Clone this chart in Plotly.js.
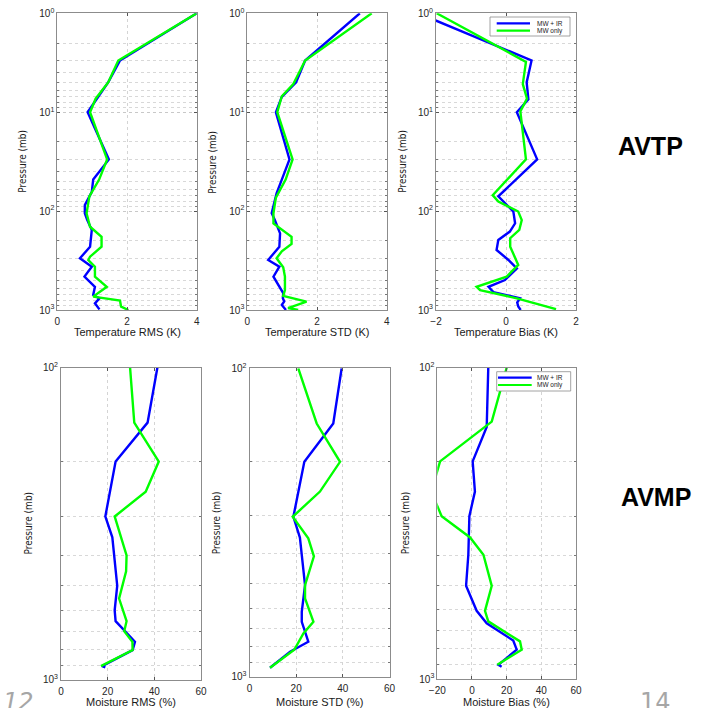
<!DOCTYPE html>
<html><head><meta charset="utf-8">
<script src="https://cdn.plot.ly/plotly-3.0.1.min.js"></script>
<style>html,body{margin:0;padding:0;background:#fff;}#chart{width:716px;height:708px;}</style>
</head><body><div id="chart"></div>
<script>
// ---------- data ----------
const seriesNames = ['MW + IR', 'MW only'];
const seriesColors = ['#0000ff', '#00ff00'];

// Temperature RMS (K)
const tRmsP_ir = [1, 3, 5, 7, 10, 30, 48, 64, 87, 105, 123, 155, 188, 229, 300, 365, 460, 583, 705, 762, 856, 985];
const tRms_ir  = [4.0, 1.80, 1.46, 1.18, 0.87, 1.48, 1.03, 0.99, 0.79, 0.79, 0.86, 0.99, 0.97, 0.94, 0.65, 0.99, 0.78, 1.08, 1.03, 1.21, 1.08, 1.21];
const tRmsP_mw = [1, 3, 5, 7.3, 10, 30, 48, 71, 105, 144, 182, 229, 289, 312, 365, 460, 583, 732, 805, 926, 1000];
const tRms_mw  = [4.0, 1.75, 1.46, 1.10, 0.94, 1.43, 1.20, 0.92, 0.84, 0.94, 1.27, 1.27, 0.94, 0.89, 1.08, 1.08, 1.42, 1.03, 1.80, 1.83, 2.04];

// Temperature STD (K)
const tStdP_ir = [1, 3, 5, 7, 10, 30, 48, 66, 105, 123, 168, 229, 312, 365, 460, 675, 762, 820, 890, 1000];
const tStd_ir  = [3.23, 1.66, 1.40, 0.99, 0.82, 1.21, 0.99, 0.84, 0.70, 0.79, 0.94, 0.92, 0.60, 0.92, 0.75, 1.03, 1.02, 1.06, 0.99, 1.11];
const tStdP_mw = [1, 3, 5.2, 6.9, 10, 30, 48, 73, 105, 133, 182, 215, 255, 300, 370, 460, 630, 720, 824, 955, 1000];
const tStd_mw  = [3.57, 1.66, 1.32, 0.99, 0.86, 1.30, 1.10, 0.82, 0.75, 0.75, 1.27, 1.27, 0.99, 0.84, 1.03, 1.08, 1.08, 1.03, 1.70, 1.17, 1.46];

// Temperature Bias (K)
const tBiasP_ir = [1, 3, 5, 7.4, 10, 30, 71, 101, 133, 161, 196, 247, 312, 380, 498, 583, 660, 762, 840, 920, 1000];
const tBias_ir  = [-2.5, 0.73, 0.59, 0.64, 0.31, 0.89, -0.22, 0.21, 0.26, 0.11, -0.22, -0.27, 0.07, 0.31, -0.03, -0.50, -0.36, 0.40, 0.32, 0.35, 0.42];
const tBiasP_mw = [1, 3.1, 5.2, 7.3, 9.8, 30, 69, 80, 101, 123, 155, 188, 229, 350, 460, 583, 630, 762, 980];
const tBias_mw  = [-1.98, 0.57, 0.48, 0.60, 0.41, 0.57, -0.38, -0.22, 0.35, 0.45, 0.38, 0.12, 0.12, 0.35, 0.02, -0.84, -0.74, 0.31, 1.43];

// Moisture RMS (%)
const mRmsP_ir = [100, 150, 200, 300, 350, 500, 600, 650, 757, 805, 906, 914];
const mRms_ir  = [41.3, 37.1, 23.4, 19.0, 22.0, 24.1, 23.0, 23.4, 31.7, 30.7, 17.6, 19.0];
const mRmsP_mw = [100, 150, 200, 250, 300, 400, 450, 550, 650, 700, 757, 805, 906];
const mRms_mw  = [29.6, 31.4, 41.9, 36.3, 23.0, 28.1, 27.9, 24.9, 28.1, 27.1, 30.6, 30.7, 17.1];

// Moisture STD (%)
const mStdP_ir = [100, 151, 201, 303, 354, 505, 616, 664, 770, 830, 935];
const mStd_ir  = [39.5, 35.9, 23.5, 18.8, 21.6, 23.8, 22.4, 22.4, 25.2, 17.4, 8.8];
const mStdP_mw = [100, 151, 201, 251, 303, 356, 407, 505, 557, 664, 724, 818, 935];
const mStd_mw  = [20.9, 28.8, 38.8, 30.2, 18.5, 25.2, 27.6, 23.8, 23.8, 27.4, 23.1, 19.2, 8.8];

// Moisture Bias (%)
const mBiasP_ir = [100, 155, 200, 250, 300, 399, 502, 604, 662, 752, 805, 900, 914];
const mBias_ir  = [9.4, 8.5, 0.4, 1.7, -1.5, -2.1, -3.4, 2.7, 8.5, 23.8, 25.8, 15.2, 17.1];
const mBiasP_mw = [100, 149, 200, 250, 300, 351, 399, 502, 604, 653, 757, 805, 900];
const mBias_mw  = [20.0, 11.4, -18.4, -23.5, -17.5, -1.1, 6.6, 11.4, 7.5, 9.4, 27.7, 28.7, 14.6];

// tick labels / axis titles
const xTitles = ['Temperature RMS (K)', 'Temperature STD (K)', 'Temperature Bias (K)',
                 'Moisture RMS (%)', 'Moisture STD (%)', 'Moisture Bias (%)'];
const yTitle = 'Pressure (mb)';
const topYTicks = [1, 10, 100, 1000];
const topYText = ['10<sup>0</sup>', '10<sup>1</sup>', '10<sup>2</sup>', '10<sup>3</sup>'];
const botYTicks = [100, 1000];
const botYText = ['10<sup>2</sup>', '10<sup>3</sup>'];
const rowLabels = ['AVTP', 'AVMP'];

// ---------- layout helpers ----------
const W = 716, H = 708;
const fx = v => v / W;
const fy = v => 1 - v / H;

const minorTop = [];
[1, 10, 100].forEach(d => { for (let k = 2; k <= 9; k++) minorTop.push(k * d); });
const minorBot = [];
for (let k = 2; k <= 9; k++) minorBot.push(k * 100);

const panels = [
  {xd: [57.3, 196.7], yd: [13.3, 310], xr: [0, 4], xt: [0, 2, 4], yr: [3, 0], yt: topYTicks, ytt: topYText, ym: minorTop,
   s: [[tRms_ir, tRmsP_ir], [tRms_mw, tRmsP_mw]], ytx: 23, xty: 332},
  {xd: [247.3, 386.7], yd: [13.3, 310], xr: [0, 4], xt: [0, 2, 4], yr: [3, 0], yt: topYTicks, ytt: topYText, ym: minorTop,
   s: [[tStd_ir, tStdP_ir], [tStd_mw, tStdP_mw]], ytx: 213, xty: 332},
  {xd: [436, 576], yd: [13.3, 310], xr: [-2, 2], xt: [-2, 0, 2], yr: [3, 0], yt: topYTicks, ytt: topYText, ym: minorTop,
   s: [[tBias_ir, tBiasP_ir], [tBias_mw, tBiasP_mw]], ytx: 403, xty: 332},
  {xd: [61, 201], yd: [367.7, 679.5], xr: [0, 60], xt: [0, 20, 40, 60], yr: [3, 2], yt: botYTicks, ytt: botYText, ym: minorBot,
   s: [[mRms_ir, mRmsP_ir], [mRms_mw, mRmsP_mw]], ytx: 29, xty: 701.5},
  {xd: [249.5, 389.5], yd: [368.3, 676.7], xr: [0, 60], xt: [0, 20, 40, 60], yr: [3, 2], yt: botYTicks, ytt: botYText, ym: minorBot,
   s: [[mStd_ir, mStdP_ir], [mStd_mw, mStdP_mw]], ytx: 216.7, xty: 701.5},
  {xd: [437.3, 576], yd: [367.7, 679], xr: [-20, 60], xt: [-20, 0, 20, 40, 60], yr: [3, 2], yt: botYTicks, ytt: botYText, ym: minorBot,
   s: [[mBias_ir, mBiasP_ir], [mBias_mw, mBiasP_mw]], ytx: 405, xty: 701.5}
];

const tickFont = {family: 'Liberation Sans, Arial, sans-serif', size: 10, color: '#262626'};
const traces = [];
const layout = {
  width: W, height: H, margin: {l: 0, r: 0, t: 0, b: 0},
  paper_bgcolor: '#ffffff', plot_bgcolor: '#ffffff', showlegend: false,
  annotations: [], shapes: []
};

panels.forEach((p, i) => {
  const n = i + 1;
  const xk = 'xaxis' + (n === 1 ? '' : n), yk = 'yaxis' + (n === 1 ? '' : n);
  const xr = 'x' + (n === 1 ? '' : n), yr = 'y' + (n === 1 ? '' : n);
  layout[xk] = {
    domain: [fx(p.xd[0]), fx(p.xd[1])], anchor: yr, range: p.xr, tickmode: 'array', tickvals: p.xt,
    showline: true, mirror: 'ticks', linecolor: '#8c8c8c', linewidth: 1, ticks: 'inside', ticklen: 3,
    tickcolor: '#555', showgrid: true, gridcolor: '#d4d4d4', griddash: 'dot', gridwidth: 1,
    zeroline: false, tickfont: tickFont, ticklabelstandoff: 2, fixedrange: true
  };
  layout[yk] = {
    domain: [fy(p.yd[1]), fy(p.yd[0])], anchor: xr, type: 'log', range: p.yr, tickmode: 'array',
    tickvals: p.yt, ticktext: p.ytt, showline: true, mirror: 'ticks', linecolor: '#8c8c8c', linewidth: 1,
    ticks: 'inside', ticklen: 3, tickcolor: '#555', showgrid: true, gridcolor: '#c8c8c8', griddash: 'dot',
    zeroline: false, tickfont: tickFont, fixedrange: true,
    minor: {tickmode: 'array', tickvals: p.ym, ticks: 'inside', ticklen: 2, tickcolor: '#777',
            showgrid: true, gridcolor: '#d8d8d8', griddash: 'dot', gridwidth: 1}
  };
  p.s.forEach((sr, k) => {
    traces.push({
      type: 'scatter', mode: 'lines', x: sr[0], y: sr[1], name: seriesNames[k],
      xaxis: xr, yaxis: yr, line: {color: seriesColors[k], width: 2.4}, hoverinfo: 'skip'
    });
  });
  // axis titles
  layout.annotations.push({
    xref: 'paper', yref: 'paper', x: fx((p.xd[0] + p.xd[1]) / 2), y: fy(p.xty), xanchor: 'center', yanchor: 'middle',
    text: xTitles[i], showarrow: false, font: {family: 'Liberation Sans, Arial, sans-serif', size: 11, color: '#1a1a1a'}
  });
  layout.annotations.push({
    xref: 'paper', yref: 'paper', x: fx(p.ytx), y: fy((p.yd[0] + p.yd[1]) / 2), xanchor: 'center', yanchor: 'middle',
    textangle: -90, text: yTitle, showarrow: false,
    font: {family: 'Liberation Sans Narrow, DejaVu Sans Condensed, Arial Narrow, sans-serif', size: 10, color: '#1a1a1a'}
  });
});

// legends (top-right of the bias panels)
const legendBoxes = [
  {box: [490, 17, 570, 36], lx: [496.7, 530], ly: [23.3, 30.7], tx: 535},
  {box: [496.7, 371.7, 570.7, 391], lx: [498, 531.7], ly: [377.7, 385], tx: 535}
];
legendBoxes.forEach(lb => {
  layout.shapes.push({type: 'rect', xref: 'paper', yref: 'paper', layer: 'above',
    x0: fx(lb.box[0]), x1: fx(lb.box[2]), y0: fy(lb.box[3]), y1: fy(lb.box[1]),
    line: {color: '#8c8c8c', width: 0.8}, fillcolor: '#ffffff'});
  seriesNames.forEach((nm, k) => {
    layout.shapes.push({type: 'line', xref: 'paper', yref: 'paper', layer: 'above',
      x0: fx(lb.lx[0]), x1: fx(lb.lx[1]), y0: fy(lb.ly[k]), y1: fy(lb.ly[k]),
      line: {color: seriesColors[k], width: 2.2}});
    layout.annotations.push({xref: 'paper', yref: 'paper', x: fx(lb.tx), y: fy(lb.ly[k]),
      xanchor: 'left', yanchor: 'middle', text: nm, showarrow: false,
      font: {family: 'Liberation Sans, Arial, sans-serif', size: 6.5, color: '#1a1a1a'}});
  });
});

// row labels and slide page numbers
layout.annotations.push({xref: 'paper', yref: 'paper', x: fx(650.5), y: fy(145.5), xanchor: 'center', yanchor: 'middle',
  text: '<b>' + rowLabels[0] + '</b>', showarrow: false, font: {family: 'Liberation Sans, Arial, sans-serif', size: 25, color: '#000'}});
layout.annotations.push({xref: 'paper', yref: 'paper', x: fx(656), y: fy(497), xanchor: 'center', yanchor: 'middle',
  text: '<b>' + rowLabels[1] + '</b>', showarrow: false, font: {family: 'Liberation Sans, Arial, sans-serif', size: 25, color: '#000'}});
layout.annotations.push({xref: 'paper', yref: 'paper', x: fx(655), y: fy(702), xanchor: 'center', yanchor: 'middle',
  text: '14', showarrow: false, font: {family: 'DejaVu Sans, sans-serif', size: 24, color: '#a6a6a6'}});
layout.annotations.push({xref: 'paper', yref: 'paper', x: fx(36), y: fy(702), xanchor: 'right', yanchor: 'middle',
  text: '<i>12</i>', showarrow: false, font: {family: 'DejaVu Sans, sans-serif', size: 24, color: '#a6a6a6'}});

Plotly.newPlot('chart', traces, layout, {staticPlot: true, displayModeBar: false});
</script></body></html>
